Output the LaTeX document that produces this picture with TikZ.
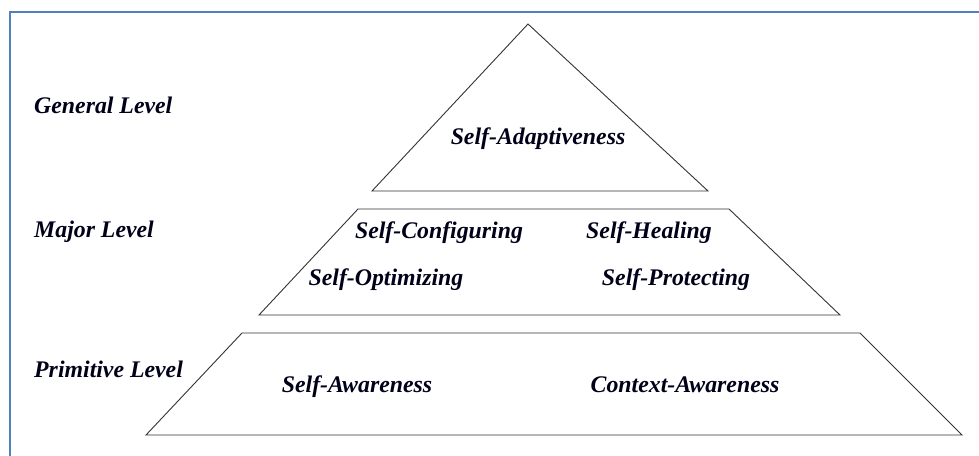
\documentclass[tikz,border=0pt]{standalone}
\usepackage{fontspec}
\setmainfont{Liberation Serif}
\begin{document}
\begin{tikzpicture}[x=1pt,y=-1pt,
  frameline/.style={draw={rgb,255:red,79;green,129;blue,189},line width=2.8pt},
  tier/.style={draw=black!80,line width=0.9pt,line join=miter},
  lbl/.style={font=\fontsize{23.8}{26}\selectfont\bfseries\itshape,inner sep=0pt,anchor=base,text=black!90!blue},
  lvl/.style={lbl,anchor=base west}]
\useasboundingbox (0,0) rectangle (979,455);
\fill[white] (0,0) rectangle (979,455);
% frame (open to the right and bottom)
\coordinate (fr) at (980,12);
\coordinate (fc) at (10,12);
\coordinate (fb) at (10,456);
\draw[frameline] (fr) -- (fc) -- (fb);
% triangle
\coordinate (t1) at (528,24);
\coordinate (t2) at (708,191);
\coordinate (t3) at (372,191);
\draw[tier] (t1) -- (t2) -- (t3) -- cycle;
% middle trapezoid
\coordinate (m1) at (358,209);
\coordinate (m2) at (729,209);
\coordinate (m3) at (840,315);
\coordinate (m4) at (259,315);
\draw[tier] (m1) -- (m2) -- (m3) -- (m4) -- cycle;
% bottom trapezoid
\coordinate (b1) at (242,333);
\coordinate (b2) at (860,333);
\coordinate (b3) at (962,435);
\coordinate (b4) at (146,435);
\draw[tier] (b1) -- (b2) -- (b3) -- (b4) -- cycle;
% level labels
\node[lvl] (gl) at (34,113) {General Level};
\node[lvl] (ml) at (34,237) {Major Level};
\node[lvl] (pl) at (34,377) {Primitive Level};
% contents
\node[lbl] (sa) at (538,144) {Self-Adaptiveness};
\node[lbl] (sc) at (439,238) {Self-Configuring};
\node[lbl] (sh) at (649,238) {Self-Healing};
\node[lbl] (so) at (386,285) {Self-Optimizing};
\node[lbl] (sp) at (676,285) {Self-Protecting};
\node[lbl] (sw) at (357,392) {Self-Awareness};
\node[lbl] (cw) at (685,392) {Context-Awareness};
\end{tikzpicture}
\end{document}
